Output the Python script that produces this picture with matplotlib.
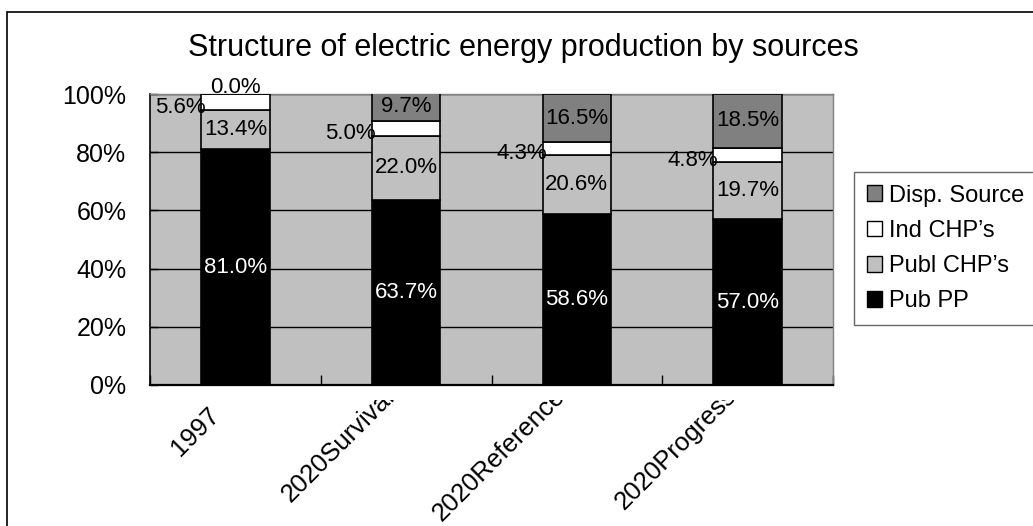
import numpy as np
import matplotlib
matplotlib.use("Agg")
import matplotlib.pyplot as plt
from matplotlib.patches import Patch, Rectangle
from matplotlib.transforms import (Bbox, ScaledTranslation, TransformedBbox,
                                   blended_transform_factory)

plt.rcParams["font.family"] = ["Liberation Sans", "DejaVu Sans"]

# ── Shares of electricity production, % ───────────────────────────────────────
scenarios = ["1997", "2020Survival", "2020Reference", "2020Progress"]
pub_pp    = [81.0, 63.7, 58.6, 57.0]
publ_chp  = [13.4, 22.0, 20.6, 19.7]
ind_chp   = [5.6, 5.0, 4.3, 4.8]
disp_src  = [0.0, 9.7, 16.5, 18.5]

# stacking order bottom -> top
series = [
    ("Pub PP",       pub_pp,   "#000000"),
    ("Publ CHP’s",   publ_chp, "#c0c0c0"),
    ("Ind CHP’s",    ind_chp,  "#ffffff"),
    ("Disp. Source", disp_src, "#808080"),
]

W, H = 1033, 526
fig = plt.figure(figsize=(W / 100, H / 100), dpi=100)
ax = fig.add_axes([150 / W, 141 / H, 683 / W, 291 / H])
ax.set_facecolor("#c0c0c0")

x = np.arange(len(scenarios))
bar_w = 0.4
bottom = np.zeros(len(scenarios))
for name, vals, col in series:
    vals = np.asarray(vals)
    ax.bar(x, vals, bar_w, bottom=bottom, color=col, edgecolor="black",
           linewidth=1.2, zorder=3)
    bottom += vals

# ── Value labels ──────────────────────────────────────────────────────────────
fs = 16
for i in x:
    pp, pc, ic, ds = pub_pp[i], publ_chp[i], ind_chp[i], disp_src[i]
    ax.text(i, pp / 2, f"{pp:.1f}%", color="white", ha="center", va="center",
            fontsize=fs, zorder=5)
    ax.text(i, pp + pc / 2, f"{pc:.1f}%", ha="center", va="center",
            fontsize=fs, zorder=5)
    ax.annotate(f"{ic:.1f}%", xy=(i - bar_w / 2, pp + pc + ic / 2),
                xytext=(3, -4), textcoords="offset points",
                ha="right", va="center", fontsize=fs, zorder=5)
    if ds > 0:
        ax.text(i, pp + pc + ic + ds / 2, f"{ds:.1f}%", ha="center",
                va="center", fontsize=fs, zorder=5)
    else:
        ax.annotate(f"{ds:.1f}%", xy=(i, 100), xytext=(0, 5),
                    textcoords="offset points", ha="center", va="center",
                    fontsize=fs, zorder=5)

# ── Axes styling ──────────────────────────────────────────────────────────────
ax.set_ylim(0, 100)
ax.set_xlim(-0.5, len(scenarios) - 0.5)
ax.set_yticks(range(0, 101, 20))
ax.set_yticklabels([f"{v}%" for v in range(0, 101, 20)])
ax.yaxis.grid(True, color="black", linewidth=1.0)
ax.set_axisbelow(True)
ax.tick_params(axis="y", direction="in", length=6, width=1, pad=17,
               labelsize=18)

ax.set_xticks(x)
ax.set_xticklabels([])
ax.tick_params(axis="x", which="major", length=0)
ax.set_xticks(np.arange(-0.5, len(scenarios), 1), minor=True)
ax.tick_params(axis="x", which="minor", direction="in", length=7, width=1)

for side in ("top", "right"):
    ax.spines[side].set_color("#808080")
    ax.spines[side].set_linewidth(1.0)
ax.spines["left"].set_color("black")
ax.spines["left"].set_linewidth(1.2)
ax.spines["bottom"].set_color("black")
ax.spines["bottom"].set_linewidth(1.6)

# category labels at 45 deg; long names sit higher and lose their tail
# under the axis, short ones hang free
trans = blended_transform_factory(ax.transData, ax.transAxes)
clip = TransformedBbox(Bbox([[0, 0], [1, (H - 400) / H]]), fig.transFigure)
for i, name in zip(x, scenarios):
    if len(name) > 6:
        dx, dy = -24, 1
    else:
        dx, dy = -28, -18
    shift = ScaledTranslation(dx / 100, dy / 100, fig.dpi_scale_trans)
    t = fig.text(i, 0, name, transform=trans + shift, rotation=45,
                 rotation_mode="anchor", ha="right", va="top", fontsize=18.5)
    t.set_clip_box(clip)
    t.set_clip_on(True)

# ── Title, legend, chart frame ────────────────────────────────────────────────
fig.text(523 / W, 1 - 48 / H,
         "Structure of electric energy production by sources",
         ha="center", va="center", fontsize=22)

handles = [Patch(facecolor=col, edgecolor="black", linewidth=1.0, label=name)
           for name, _, col in reversed(series)]
leg = fig.legend(handles=handles, loc="upper left",
                 bbox_to_anchor=(854 / W, 1 - 172 / H, 200 / W, 0),
                 mode="expand", fontsize=17,
                 frameon=True, fancybox=False, edgecolor="#404040",
                 borderpad=0.53, labelspacing=0.56, handlelength=0.65,
                 handleheight=0.65, handletextpad=0.3, borderaxespad=0)
leg.get_frame().set_linewidth(1.0)

fig.add_artist(Rectangle((7 / W, -0.1), 1.2, 1 - 12 / H + 0.1,
                         transform=fig.transFigure, fill=False,
                         edgecolor="black", linewidth=1.2))

fig.savefig("out.png", dpi=100)
